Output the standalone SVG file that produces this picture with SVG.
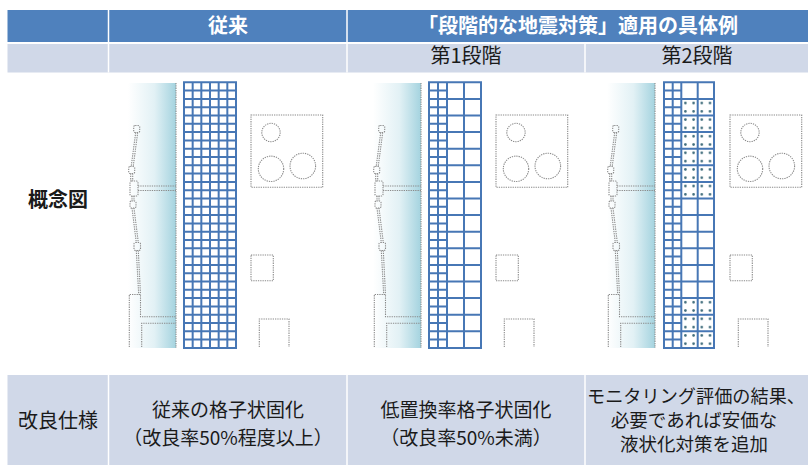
<svg xmlns="http://www.w3.org/2000/svg" xmlns:xlink="http://www.w3.org/1999/xlink" width="808" height="465" viewBox="0 0 808 465">
<style>
text{font-family:"Noto Sans CJK JP","Noto Sans CJK SC",sans-serif;fill:#1a1a1a;font-size:20px}
.hd{fill:#ffffff;font-weight:bold}
.c{text-anchor:middle}
.b{font-weight:bold}
.s{font-size:19px}
.t{font-size:18.5px}
.dot{fill:none;stroke:#8a8a8a;stroke-width:1.1;stroke-dasharray:1.3 1}
.grid{fill:none;stroke:#4777B5;stroke-width:2}
.div{stroke:#ffffff;stroke-width:1.5}
</style>
<defs>
<linearGradient id="sea" x1="0" y1="0" x2="1" y2="0">
<stop offset="0" stop-color="#ffffff"/>
<stop offset="0.55" stop-color="#E2F1F5"/>
<stop offset="1" stop-color="#A4D3DF"/>
</linearGradient>
<pattern id="dots" patternUnits="userSpaceOnUse" x="681.3" y="98.9" width="8.2" height="8.3">
<circle cx="4.1" cy="4.15" r="1.3" fill="#3d6b7a"/>
</pattern>
<g id="site">
<rect x="128" y="83" width="48" height="265" fill="url(#sea)"/>
<line x1="176" y1="83" x2="176" y2="348" class="dot"/>
<rect x="133.7" y="125.5" width="6" height="7" rx="1.5" class="dot"/>
<path class="dot" d="M135.7 132.5L131.2 166.5M137.7 132.5L133.2 166.5"/>
<rect x="128.7" y="166.5" width="6" height="7" rx="1.5" class="dot"/>
<path class="dot" d="M130.7 173.5V181M132.7 173.5V181"/>
<rect x="130" y="181" width="8" height="15" rx="1.5" class="dot"/>
<path class="dot" d="M138 186H176M138 190.5H176"/>
<path class="dot" d="M132 196V201M134 196V201"/>
<rect x="130" y="201" width="6" height="7" rx="1.5" class="dot"/>
<path class="dot" d="M132 208L136.3 242.5M134 208L138.3 242.5"/>
<rect x="134" y="242.5" width="6.5" height="8" rx="1.5" class="dot"/>
<path class="dot" d="M136.3 250.5L138.7 294.5M138.3 250.5L140.5 294.5"/>
<path class="dot" d="M129.3 347V294.5H140.5V316.7H176M141.7 347V323.3H176"/>
<rect x="251" y="115" width="71.7" height="72.3" class="dot"/>
<circle cx="271" cy="132.5" r="9.2" class="dot"/>
<circle cx="271" cy="168.8" r="12.7" class="dot"/>
<circle cx="302.8" cy="166" r="12.8" class="dot"/>
<rect x="251" y="255" width="22.3" height="25.7" class="dot"/>
<path class="dot" d="M259.3 347V319H289V347"/>
</g>
</defs>

<g id="table">
<rect x="7.5" y="10" width="800.5" height="32" fill="#4F81BD"/>
<line x1="108.5" y1="10" x2="108.5" y2="42" class="div"/>
<line x1="347" y1="10" x2="347" y2="42" class="div"/>
<rect x="7.5" y="44" width="800.5" height="28.5" fill="#D0D8E8"/>
<line x1="108.5" y1="44" x2="108.5" y2="72.5" class="div"/>
<line x1="347" y1="44" x2="347" y2="72.5" class="div"/>
<line x1="585" y1="44" x2="585" y2="72.5" class="div"/>
<rect x="7.5" y="375" width="800.5" height="90" fill="#D0D8E8"/>
<line x1="108.5" y1="375" x2="108.5" y2="465" class="div"/>
<line x1="347" y1="375" x2="347" y2="465" class="div"/>
<line x1="585" y1="375" x2="585" y2="465" class="div"/>
</g>

<g id="headers">
<text class="hd c" x="228" y="33">従来</text>
<text class="hd c" x="578" y="33">「段階的な地震対策」適用の具体例</text>
<text class="c" x="466" y="63">第1段階</text>
<text class="c" x="697" y="63">第2段階</text>
<text class="c b" x="58" y="207">概念図</text>
<text class="c" x="58" y="428">改良仕様</text>
</g>

<g id="panel-conventional">
<use xlink:href="#site"/>
<path class="grid" d="M184 82.3H236V347.9H184ZM192.67 82.3V347.9M201.33 82.3V347.9M210 82.3V347.9M218.67 82.3V347.9M227.33 82.3V347.9
M184 90.6H236M184 98.9H236M184 107.2H236M184 115.5H236M184 123.8H236M184 132.1H236M184 140.4H236M184 148.7H236M184 157H236M184 165.3H236M184 173.6H236M184 181.9H236M184 190.2H236M184 198.5H236M184 206.8H236M184 215.1H236M184 223.4H236M184 231.7H236M184 240H236M184 248.3H236M184 256.6H236M184 264.9H236M184 273.2H236M184 281.5H236M184 289.8H236M184 298.1H236M184 306.4H236M184 314.7H236M184 323H236M184 331.3H236M184 339.6H236"/>
<text class="c s" x="228" y="417">従来の格子状固化</text>
<text class="c s" x="228" y="445">（改良率50%程度以上）</text>
</g>

<g id="panel-stage1">
<use xlink:href="#site" transform="translate(245 0)"/>
<path class="grid" d="M429 82.3H481V347.9H429ZM438 82.3V347.9M447 82.3V347.9M464 82.3V347.9
M429 90.6H447M429 98.9H481M429 107.2H447M429 115.5H481M429 123.8H447M429 132.1H481M429 140.4H447M429 148.7H481M429 157H447M429 165.3H481M429 173.6H447M429 181.9H481M429 190.2H447M429 198.5H481M429 206.8H447M429 215.1H481M429 223.4H447M429 231.7H481M429 240H447M429 248.3H481M429 256.6H447M429 264.9H481M429 273.2H447M429 281.5H481M429 289.8H447M429 298.1H481M429 306.4H447M429 314.7H481M429 323H447M429 331.3H481M429 339.6H447"/>
<text class="c s" x="466" y="417">低置換率格子状固化</text>
<text class="c s" x="466" y="445">（改良率50%未満）</text>
</g>

<g id="panel-stage2">
<use xlink:href="#site" transform="translate(479 0)"/>
<rect x="681.3" y="98.9" width="32.7" height="99.6" fill="url(#dots)"/>
<rect x="681.3" y="298.1" width="32.7" height="49.8" fill="url(#dots)"/>
<path class="grid" d="M664 82.3H714V347.9H664ZM672.7 82.3V347.9M681.3 82.3V347.9M697.7 82.3V347.9
M664 90.6H681.3M664 98.9H714M664 107.2H681.3M664 115.5H714M664 123.8H681.3M664 132.1H714M664 140.4H681.3M664 148.7H714M664 157H681.3M664 165.3H714M664 173.6H681.3M664 181.9H714M664 190.2H681.3M664 198.5H714M664 206.8H681.3M664 215.1H714M664 223.4H681.3M664 231.7H714M664 240H681.3M664 248.3H714M664 256.6H681.3M664 264.9H714M664 273.2H681.3M664 281.5H714M664 289.8H681.3M664 298.1H714M664 306.4H681.3M664 314.7H714M664 323H681.3M664 331.3H714M664 339.6H681.3"/>
<text class="t" x="587" y="403" textLength="218" lengthAdjust="spacingAndGlyphs">モニタリング評価の結果、</text>
<text class="c t" x="694" y="427">必要であれば安価な</text>
<text class="c t" x="694" y="451">液状化対策を追加</text>
</g>
</svg>
